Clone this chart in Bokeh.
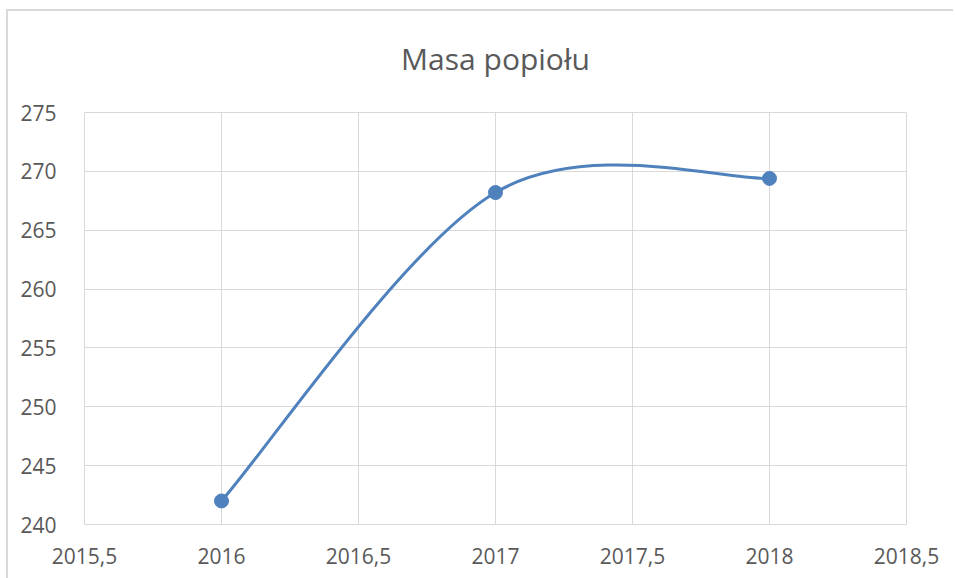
from bokeh.plotting import figure
from bokeh.models import FixedTicker, Title
from bokeh.embed import file_html
from bokeh.resources import INLINE

# Data
years = [2016, 2017, 2018]
ash_mass = [242.0, 268.2, 269.4]
x_ticks = [2015.5, 2016, 2016.5, 2017, 2017.5, 2018, 2018.5]
y_ticks = [240, 245, 250, 255, 260, 265, 270, 275]
title_text = "Masa popiołu"

TEXT = "#595959"
GRID = "#d9d9d9"
BLUE = "#4F81BD"
FONT = "Open Sans"

p = figure(width=947, height=577, output_backend="svg", toolbar_location=None,
           x_range=(x_ticks[0], x_ticks[-1]), y_range=(y_ticks[0], y_ticks[-1]),
           min_border_left=78, min_border_right=47, min_border_top=108, min_border_bottom=54)
p.border_fill_color = None
p.background_fill_color = "#ffffff"
p.styles = {
    "margin-left": "6px",
    "margin-top": "1px",
    "background": ("linear-gradient(#d9d9d9, #d9d9d9) 0px 8px / 100% 2px no-repeat, "
                   "linear-gradient(#d9d9d9, #d9d9d9) 0px 8px / 2px 100% no-repeat, #ffffff"),
}

t = Title(text=title_text, align="center", text_font=FONT,
          text_font_size="30px", text_color=TEXT, text_font_style="normal", standoff=68)
p.add_layout(t, "above")

p.outline_line_color = GRID
p.outline_line_width = 1
for ax in (p.xaxis[0], p.yaxis[0]):
    ax.axis_line_color = None
    ax.major_tick_line_color = None
    ax.minor_tick_line_color = None
    ax.major_label_text_font = FONT
    ax.major_label_text_font_size = "21px"
    ax.major_label_text_color = TEXT

p.xaxis.ticker = FixedTicker(ticks=x_ticks)
p.xaxis.major_label_overrides = {v: (str(v).replace(".", ",") if v % 1 else str(int(v))) for v in x_ticks}
p.xaxis.major_label_standoff = 17
p.yaxis.ticker = FixedTicker(ticks=y_ticks)
p.yaxis.major_label_standoff = 22

p.xgrid.grid_line_color = GRID
p.ygrid.grid_line_color = GRID
p.xgrid.grid_line_width = 1
p.ygrid.grid_line_width = 1

# Smoothed line (Catmull-Rom style Bezier through the data points)
n = len(years)
x0s, y0s, x1s, y1s, cx0s, cy0s, cx1s, cy1s = [], [], [], [], [], [], [], []
for i in range(n - 1):
    pm = i - 1 if i > 0 else i
    pn = i + 2 if i + 2 < n else i + 1
    x0s.append(years[i]); y0s.append(ash_mass[i])
    x1s.append(years[i + 1]); y1s.append(ash_mass[i + 1])
    cx0s.append(years[i] + (years[i + 1] - years[pm]) / 6)
    cy0s.append(ash_mass[i] + (ash_mass[i + 1] - ash_mass[pm]) / 6)
    cx1s.append(years[i + 1] - (years[pn] - years[i]) / 6)
    cy1s.append(ash_mass[i + 1] - (ash_mass[pn] - ash_mass[i]) / 6)

p.bezier(x0=x0s, y0=y0s, x1=x1s, y1=y1s, cx0=cx0s, cy0=cy0s, cx1=cx1s, cy1=cy1s,
         line_color=BLUE, line_width=3)
p.scatter(years, ash_mass, size=14, fill_color=BLUE, line_color=BLUE)

open("out.html", "w").write(file_html(p, INLINE))
